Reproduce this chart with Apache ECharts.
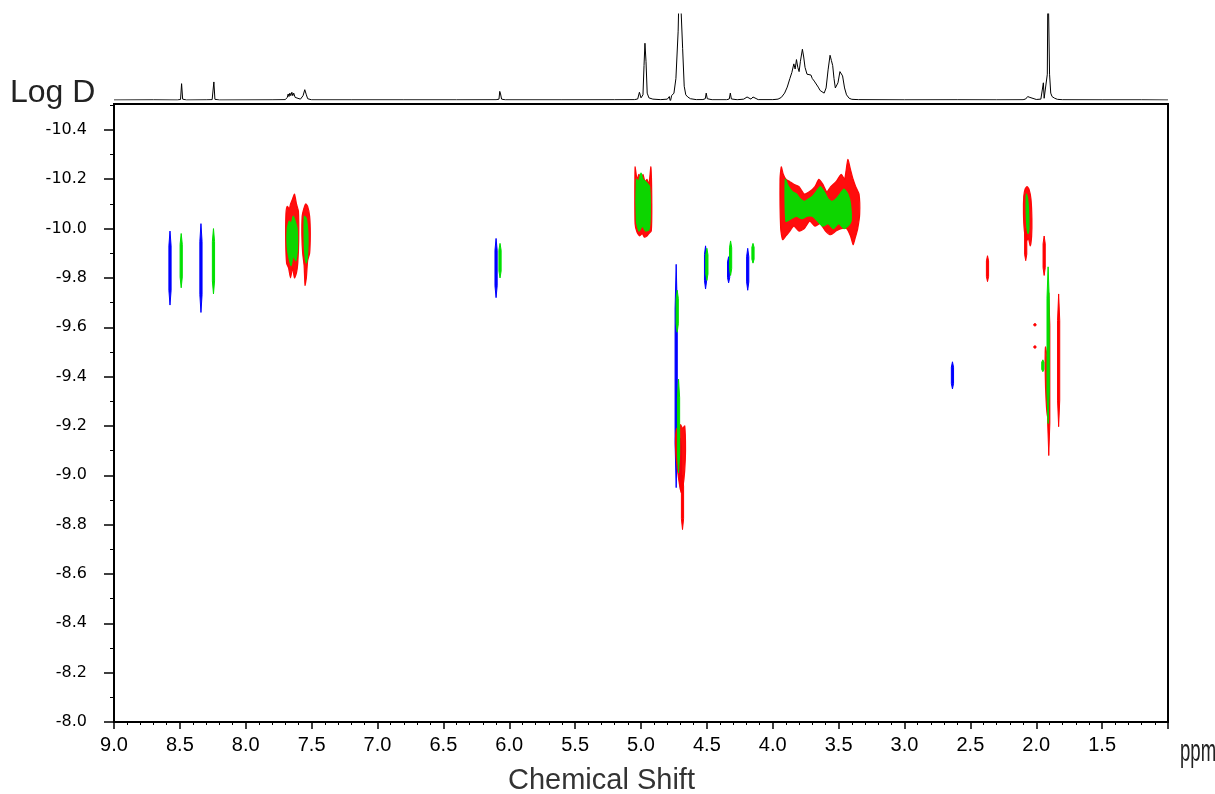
<!DOCTYPE html>
<html><head><meta charset="utf-8">
<script src="https://cdn.jsdelivr.net/npm/echarts@6/dist/echarts.min.js"></script>
<style>html,body{margin:0;padding:0;background:#fff}#c{width:1215px;height:794px}</style>
</head><body><div id="c"></div>
<script>
// ---- tick labels ----
const xTickValues = [9.0,8.5,8.0,7.5,7.0,6.5,6.0,5.5,5.0,4.5,4.0,3.5,3.0,2.5,2.0,1.5];
const yTickValues = [-10.4,-10.2,-10.0,-9.8,-9.6,-9.4,-9.2,-9.0,-8.8,-8.6,-8.4,-8.2,-8.0];
const yMinorValues = [-10.5,-10.3,-10.1,-9.9,-9.7,-9.5,-9.3,-9.1,-8.9,-8.7,-8.5,-8.3,-8.1];

// ---- 1D projection spectrum [ppm, intensity] ----
const spectrum = [
 [9.0,0],[8.7,0.002],[8.52,0],[8.495,0.006],[8.487,0.19],[8.479,0.01],[8.45,0],
 [8.30,0.002],[8.255,0.004],[8.242,0.21],[8.234,0.008],[8.2,0],
 [7.80,0.002],[7.70,0.004],[7.685,0.03],[7.678,0.07],[7.672,0.04],[7.665,0.08],[7.658,0.05],[7.65,0.09],[7.643,0.05],[7.636,0.08],[7.625,0.03],[7.61,0.01],[7.585,0.01],[7.565,0.05],[7.552,0.12],[7.54,0.06],[7.53,0.015],[7.50,0.002],
 [7.2,0.002],[6.8,0.002],[6.4,0.002],[6.10,0.003],[6.078,0.01],[6.072,0.1],[6.066,0.07],[6.058,0.01],[6.03,0.002],
 [5.6,0.002],[5.2,0.003],[5.05,0.004],[5.025,0.012],[5.012,0.09],[5.0,0.025],[4.985,0.06],[4.977,0.4],[4.97,0.66],[4.962,0.45],[4.953,0.08],[4.94,0.025],[4.91,0.01],[4.85,0.004],[4.80,0.01],
 [4.785,0.04],[4.777,-0.02],[4.768,0.05],[4.75,0.08],[4.735,0.25],[4.718,0.8],[4.708,1.5],[4.694,1.5],[4.684,0.6],[4.672,0.16],[4.66,0.06],[4.645,0.035],[4.635,0.045],[4.625,0.015],[4.58,0.004],
 [4.53,0.005],[4.512,0.015],[4.505,0.08],[4.497,0.015],[4.46,0.003],[4.35,0.003],[4.33,0.012],[4.322,0.08],[4.314,0.012],[4.27,0.003],[4.22,0.01],[4.195,0.035],[4.18,0.02],[4.165,0.01],[4.15,0.035],[4.135,0.015],[4.11,0.004],
 [4.0,0.004],[3.96,0.01],[3.935,0.03],[3.91,0.08],[3.89,0.15],[3.87,0.25],[3.855,0.32],[3.84,0.42],[3.83,0.36],[3.82,0.47],[3.81,0.38],[3.80,0.33],[3.79,0.45],[3.775,0.59],[3.765,0.5],[3.755,0.38],[3.74,0.3],[3.725,0.32],[3.71,0.29],[3.70,0.25],[3.685,0.22],[3.67,0.2],[3.655,0.15],[3.64,0.11],[3.625,0.09],[3.61,0.08],[3.595,0.14],[3.58,0.35],[3.565,0.52],[3.555,0.46],[3.545,0.4],[3.535,0.25],[3.525,0.14],[3.515,0.12],[3.505,0.2],[3.49,0.33],[3.48,0.35],[3.47,0.28],[3.455,0.14],[3.44,0.06],[3.42,0.02],[3.40,0.008],[3.35,0.004],
 [3.0,0.002],[2.6,0.003],[2.3,0.002],[2.10,0.003],[2.08,0.012],[2.065,0.04],[2.057,0.02],[2.048,0.03],[2.035,0.01],[2.0,0.006],[1.965,0.01],[1.952,0.02],[1.946,0.2],[1.94,0.02],[1.925,0.03],[1.916,0.3],[1.911,1.5],[1.905,1.5],[1.899,0.3],[1.89,0.08],[1.88,0.04],[1.87,0.03],[1.86,0.02],[1.85,0.03],[1.84,0.008],[1.8,0.003],
 [1.5,0.002],[1.2,0.002],[1.0,0]
];

// ---- contour clusters (outline polygons [ppm, logD]) ----
const redClusters = [
 [[7.695,-10.06],[7.685,-10.09],[7.67,-10.08],[7.66,-10.1],[7.645,-10.12],[7.63,-10.14],[7.615,-10.1],[7.60,-10.07],[7.598,-9.95],[7.605,-9.86],[7.615,-9.82],[7.63,-9.80],[7.645,-9.84],[7.66,-9.80],[7.675,-9.84],[7.69,-9.86],[7.697,-9.95]],
 [[7.572,-10.05],[7.56,-10.08],[7.545,-10.1],[7.53,-10.09],[7.515,-10.05],[7.51,-9.98],[7.515,-9.9],[7.53,-9.87],[7.54,-9.8],[7.55,-9.77],[7.557,-9.85],[7.568,-9.9],[7.574,-9.97]],
 [[5.045,-10.25],[5.03,-10.2],[5.015,-10.22],[5.0,-10.19],[4.985,-10.22],[4.97,-10.19],[4.955,-10.2],[4.94,-10.18],[4.925,-10.25],[4.918,-10.1],[4.922,-9.99],[4.94,-9.98],[4.955,-9.97],[4.975,-9.965],[4.99,-9.98],[5.01,-9.97],[5.03,-9.985],[5.045,-10.02]],
 [[3.945,-10.2],[3.935,-10.25],[3.92,-10.22],[3.90,-10.2],[3.87,-10.19],[3.84,-10.18],[3.80,-10.17],[3.76,-10.14],[3.72,-10.15],[3.68,-10.17],[3.65,-10.2],[3.62,-10.18],[3.59,-10.15],[3.56,-10.17],[3.52,-10.19],[3.48,-10.22],[3.455,-10.2],[3.43,-10.28],[3.41,-10.24],[3.39,-10.2],[3.37,-10.17],[3.345,-10.14],[3.34,-10.06],[3.355,-10.0],[3.375,-9.96],[3.39,-9.935],[3.41,-9.97],[3.44,-10.0],[3.48,-10.0],[3.52,-9.99],[3.56,-9.975],[3.60,-9.99],[3.64,-10.02],[3.68,-10.01],[3.72,-10.03],[3.76,-10.0],[3.80,-9.99],[3.84,-10.01],[3.87,-9.99],[3.90,-9.97],[3.925,-9.955],[3.94,-10.0]],
 [[2.095,-10.13],[2.085,-10.16],[2.07,-10.17],[2.055,-10.16],[2.04,-10.12],[2.033,-10.04],[2.035,-9.97],[2.045,-9.93],[2.06,-9.96],[2.075,-9.95],[2.09,-9.99],[2.097,-10.06]],
 [[4.738,-9.15],[4.728,-9.19],[4.715,-9.17],[4.70,-9.205],[4.685,-9.19],[4.668,-9.2],[4.662,-9.1],[4.668,-9.02],[4.68,-8.96],[4.695,-8.93],[4.71,-8.97],[4.725,-9.03],[4.735,-9.08]],
 [[1.93,-9.52],[1.918,-9.48],[1.908,-9.42],[1.902,-9.34],[1.905,-9.26],[1.915,-9.24],[1.925,-9.3],[1.932,-9.42]]
];
const greenClusters = [
 [[7.685,-10.0],[7.67,-10.03],[7.655,-10.02],[7.64,-10.05],[7.625,-10.03],[7.61,-10.0],[7.607,-9.92],[7.62,-9.87],[7.64,-9.89],[7.655,-9.85],[7.672,-9.88],[7.686,-9.93]],
 [[7.555,-10.05],[7.54,-10.04],[7.528,-9.98],[7.53,-9.9],[7.54,-9.86],[7.552,-9.9],[7.557,-9.98]],
 [[5.035,-10.2],[5.02,-10.19],[5.0,-10.225],[4.985,-10.2],[4.965,-10.19],[4.935,-10.17],[4.93,-10.05],[4.94,-9.995],[4.965,-9.99],[4.99,-10.01],[5.015,-9.99],[5.035,-10.03]],
 [[3.905,-10.2],[3.88,-10.17],[3.85,-10.15],[3.82,-10.14],[3.79,-10.12],[3.76,-10.11],[3.73,-10.12],[3.70,-10.13],[3.67,-10.15],[3.64,-10.17],[3.61,-10.15],[3.58,-10.12],[3.55,-10.11],[3.52,-10.12],[3.49,-10.14],[3.46,-10.16],[3.43,-10.14],[3.41,-10.1],[3.405,-10.03],[3.43,-10.01],[3.46,-10.0],[3.50,-10.02],[3.54,-10.0],[3.58,-10.02],[3.62,-10.01],[3.66,-10.03],[3.70,-10.05],[3.74,-10.05],[3.78,-10.04],[3.82,-10.05],[3.86,-10.04],[3.90,-10.03]],
 [[2.075,-10.14],[2.065,-10.12],[2.058,-10.07],[2.056,-10.0],[2.062,-9.98],[2.07,-10.0],[2.076,-10.06]]
];

// ---- narrow contour streaks [ppm, logD top, logD bottom] ----
const blueStreaks = [
 [8.575,-9.99,-9.69],[8.34,-10.02,-9.66],[6.10,-9.96,-9.72],[4.733,-9.855,-8.95],
 [4.51,-9.93,-9.755],[4.335,-9.886,-9.78],[4.19,-9.92,-9.75],[2.636,-9.46,-9.35],[4.70,-9.15,-8.94]
];
const greenStreaks = [
 [8.49,-9.98,-9.76],[8.245,-10.0,-9.735],[6.07,-9.94,-9.80],[4.50,-9.92,-9.79],[4.32,-9.95,-9.81],
 [4.15,-9.94,-9.86],[4.725,-9.75,-9.58],[4.715,-9.39,-9.01],[1.91,-9.845,-9.21],[1.95,-9.468,-9.42]
];
const redStreaks = [
 [4.685,-9.0,-8.78],[2.08,-10.0,-9.87],[2.37,-9.89,-9.785],[1.94,-9.97,-9.81],
 [1.905,-9.74,-9.08],[1.83,-9.735,-9.197],[2.01,-9.615,-9.605],[2.01,-9.525,-9.515]
];

const RED = '#ff0000', GREEN = '#00e000', BLUE = '#0000ff';
const FONT = 'Liberation Sans, Arial, sans-serif';

function polySeries(list, color, z) {
  return {
    type: 'custom', xAxisIndex: 0, yAxisIndex: 0, clip: true, z: z,
    data: list.map((p, i) => [p[0][0], p[0][1], i]),
    renderItem: function (params, api) {
      const idx = api.value(2);
      const pts = list[idx].map(p => api.coord(p));
      return { type: 'polygon', shape: { points: pts, smooth: 0.2 },
        style: { fill: color, stroke: color, lineWidth: 1.2, opacity: 0.95 } };
    }
  };
}
function streakSeries(list, color, z) {
  return {
    type: 'custom', xAxisIndex: 0, yAxisIndex: 0, clip: true, z: z,
    data: list,
    renderItem: function (params, api) {
      const t = api.coord([api.value(0), api.value(1)]);
      const b = api.coord([api.value(0), api.value(2)]);
      const h = b[1] - t[1];
      const hw = 1.1;
      const pts = [[t[0], t[1]], [t[0] + hw, t[1] + h * 0.2], [t[0] + hw, b[1] - h * 0.2], [t[0], b[1]],
                   [t[0] - hw, b[1] - h * 0.2], [t[0] - hw, t[1] + h * 0.2]];
      return { type: 'polygon', shape: { points: pts },
        style: { fill: color, stroke: color, lineWidth: 1 } };
    }
  };
}

const chart = echarts.init(document.getElementById('c'), null, { renderer: 'canvas' });
chart.setOption({
  animation: false,
  backgroundColor: '#fff',
  grid: [
    { left: 114, top: 104, width: 1054, height: 618, show: true, borderColor: '#000', borderWidth: 2 },
    { left: 114, top: 14, width: 1054, height: 86 }
  ],
  xAxis: [
    { type: 'value', gridIndex: 0, min: 1.0, max: 9.0, inverse: true, interval: 0.5,
      axisLine: { show: true, lineStyle: { color: '#000', width: 2 } },
      axisTick: { show: true, length: 7, lineStyle: { color: '#000', width: 1.5 } },
      minorTick: { show: true, splitNumber: 5, length: 3, lineStyle: { color: '#000', width: 1 } },
      splitLine: { show: false },
      axisLabel: { margin: 13, color: '#000', fontSize: 20, fontFamily: FONT,
        formatter: v => (Math.abs(v - 1.0) < 1e-6 ? '' : v.toFixed(1)) } },
    { type: 'value', gridIndex: 1, min: 1.0, max: 9.0, inverse: true, show: false }
  ],
  yAxis: [
    { type: 'value', gridIndex: 0, position: 'left', offset: 0, min: -10.505, max: -8.0, inverse: true,
      axisLine: { show: true, lineStyle: { color: '#000', width: 2 } },
      axisTick: { show: true, length: 10, customValues: yTickValues, lineStyle: { color: '#000', width: 1.5 } },
      splitLine: { show: false },
      axisLabel: { margin: 27, color: '#000', fontSize: 16, fontFamily: 'DejaVu Sans, sans-serif', customValues: yTickValues,
        formatter: v => v.toFixed(1) } },
    { type: 'value', gridIndex: 0, position: 'left', offset: 0, min: -10.505, max: -8.0, inverse: true,
      axisLine: { show: false },
      axisTick: { show: true, length: 4, customValues: yMinorValues, lineStyle: { color: '#000', width: 1 } },
      splitLine: { show: false }, axisLabel: { show: false } },
    { type: 'value', gridIndex: 1, min: 0, max: 1, show: false }
  ],
  graphic: [
    { type: 'text', left: 10, top: 77, style: { text: 'Log D', font: '32px ' + FONT, fill: '#222' } },
    { type: 'text', x: 1180, y: 736, scaleX: 0.58, style: { text: 'ppm', font: '32px ' + FONT, fill: '#222' } },
    { type: 'text', left: 508, top: 766, style: { text: 'Chemical Shift', font: '29px ' + FONT, fill: '#333' } }
  ],
  series: [
    { type: 'line', xAxisIndex: 1, yAxisIndex: 2, data: spectrum, showSymbol: false, clip: true,
      lineStyle: { color: '#000', width: 1 }, z: 2 },
    streakSeries(blueStreaks, BLUE, 3),
    polySeries(redClusters, RED, 4),
    streakSeries(redStreaks, RED, 5),
    polySeries(greenClusters, GREEN, 6),
    streakSeries(greenStreaks, GREEN, 7)
  ]
});
</script>
</body></html>
